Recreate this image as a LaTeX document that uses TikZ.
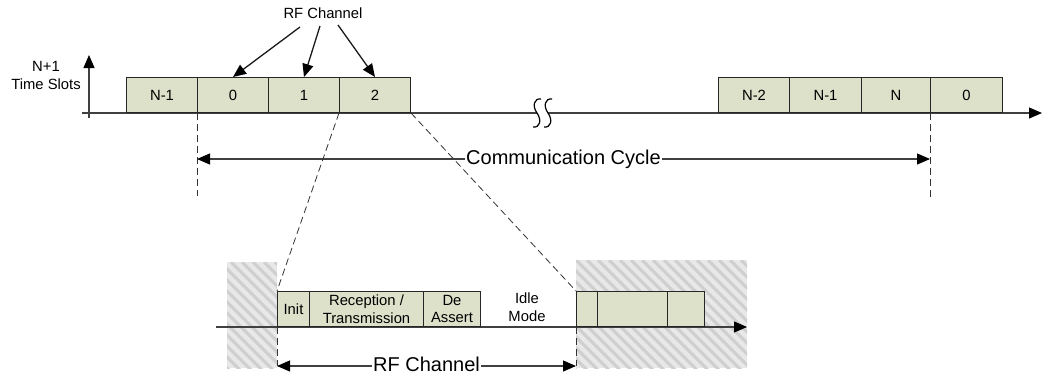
\documentclass[tikz,border=0pt]{standalone}
\usepackage{fontspec}
\setmainfont{Liberation Sans}
\usetikzlibrary{arrows.meta}
\definecolor{slotfill}{HTML}{DDE1C9}
\definecolor{hatchbg}{HTML}{E8E8E8}
\definecolor{hatchln}{HTML}{CFCFCF}
\begin{document}
\begin{tikzpicture}[x=1pt,y=-1pt,
  slot/.style={draw=black!85, line width=1pt, fill=slotfill, inner sep=0pt,
    minimum height=35pt, anchor=south west, align=center,
    font=\fontsize{14.8}{17.5}\selectfont},
  lbl/.style={inner sep=0pt, align=center, font=\fontsize{14.8}{17.5}\selectfont},
  big/.style={inner sep=0pt, inner xsep=1pt, fill=white, font=\fontsize{20}{24}\selectfont},
  head/.tip={Triangle[length=13pt,width=11pt,color=black]},
  axis/.style={draw=black!75, line width=1.1pt},
  pointer/.style={draw=black!90, line width=1.3pt, -head},
  guide/.style={draw=black!80, line width=0.8pt, dash pattern=on 7pt off 4pt}]

\useasboundingbox (0,0) rectangle (1044,376);

% shaded zones on either side of the magnified slot
\begin{scope}
  \clip (227,262) rectangle (277,368);
  \fill[hatchbg] (227,262) rectangle (277,368);
  \foreach \x in {110,121,...,290} \draw[hatchln, line width=3pt] (\x,262) -- ++(110,110);
\end{scope}
\begin{scope}
  \clip (576,260) rectangle (747,368);
  \fill[hatchbg] (576,260) rectangle (747,368);
  \foreach \x in {455,466,...,760} \draw[hatchln, line width=3pt] (\x,260) -- ++(110,110);
\end{scope}

% upper time axis
\coordinate (ax0) at (82,113);
\coordinate (ax1) at (1042,113);
\draw[axis,-head] (ax0) -- (ax1);
\coordinate (v0) at (89,118);
\coordinate (v1) at (89,55);
\draw[axis,-head] (v0) -- (v1);
\node[lbl] (nslots) at (46,75.5) {N+1\\Time Slots};

% axis break
\fill[white] (537,109) rectangle (548,117);
\foreach \c in {537,548}
  \draw[black, line width=1.2pt] (\c+4,99) .. controls (\c-3,98) and (\c-5,106) .. (\c,113)
     .. controls (\c+5,120) and (\c+3,128) .. (\c-4,127);

% time slots, start of cycle
\node[slot, minimum width=71pt] (t1) at (126,113) {N-1};
\node[slot, minimum width=71pt] (t2) at (197,113) {0};
\node[slot, minimum width=71pt] (t3) at (268,113) {1};
\node[slot, minimum width=71pt] (t4) at (339,113) {2};

% time slots, end of cycle
\node[slot, minimum width=71pt] (u1) at (718,113) {N-2};
\node[slot, minimum width=72pt] (u2) at (789,113) {N-1};
\node[slot, minimum width=69pt] (u3) at (861,113) {N};
\node[slot, minimum width=72pt] (u4) at (930,113) {0};

% RF channel callout
\node[lbl] (rf) at (323,13) {RF Channel};
\coordinate (p1) at (300,27);
\coordinate (p2) at (320,26);
\coordinate (p3) at (338,25);
\draw[pointer] (p1) -- (t2.north);
\draw[pointer] (p2) -- (t3.north);
\draw[pointer] (p3) -- (t4.north);

% communication cycle span
\coordinate (g1) at (197,196);
\coordinate (g2) at (930,200);
\draw[guide] (t2.south west) -- (g1);
\draw[guide] (u4.south west) -- (g2);
\coordinate (c0) at (197,159);
\coordinate (c1) at (930,159);
\draw[axis,head-head] (c0) -- node[big] (cc) {Communication Cycle} (c1);

% lower (magnified) axis
\coordinate (bx0) at (216,327);
\coordinate (bx1) at (747,327);
\draw[axis,-head] (bx0) -- (bx1);

\node[slot, minimum width=32pt] (i1) at (277,327) {Init};
\node[slot, minimum width=114pt] (i2) at (309,327) {Reception /\\Transmission};
\node[slot, minimum width=57pt] (i3) at (423,327) {De\\Assert};
\node[lbl] (idle) at (527,307) {Idle\\Mode};

\node[slot, minimum width=21pt] (n1) at (576,327) {};
\node[slot, minimum width=70pt] (n2) at (597,327) {};
\node[slot, minimum width=37pt] (n3) at (667,327) {};

% zoom lines from slot 2
\draw[guide] (t4.south west) -- (i1.north west);
\draw[guide] (t4.south east) -- (n1.north west);

% RF channel span
\coordinate (h0) at (277,366);
\coordinate (h1) at (576,366);
\draw[guide] (i1.south west) -- (h0);
\draw[guide] (n1.south west) -- (h1);
\draw[axis,head-head] (h0) -- node[big, yshift=1.5pt] (rfc) {RF Channel} (h1);
\end{tikzpicture}
\end{document}
